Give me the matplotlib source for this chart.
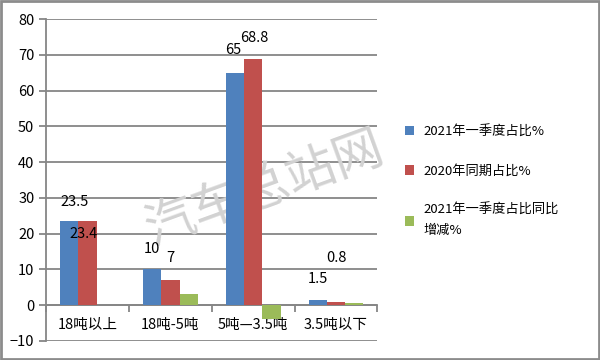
import numpy as np
import matplotlib.pyplot as plt

plt.rcParams['font.family'] = ['Noto Sans CJK SC', 'DejaVu Sans']

categories = ["18吨以上", "18吨-5吨", "5吨—3.5吨", "3.5吨以下"]
share_2021q1 = [23.5, 10, 65, 1.5]
share_2020 = [23.4, 7, 68.8, 0.8]
share_change = [0.1, 3, -3.8, 0.7]
series_names = ["2021年一季度占比%", "2020年同期占比%", "2021年一季度占比同比\n增减%"]
yticks = [-10, 0, 10, 20, 30, 40, 50, 60, 70, 80]

colors = ["#4f81bd", "#c0504d", "#9bbb59"]
# label offsets in points (manually placed in the original)
off_blue = [(4, 9), (0, 10), (-1, 11), (0, 10)]
off_red = [(-3, -14), (0, 11), (1, 10), (0, 27)]

fig = plt.figure(figsize=(6, 3.6), dpi=100)
ax = fig.add_axes([0.077, 0.053, 0.552, 0.894])

x = np.arange(len(categories))
w = 0.22
series = [share_2021q1, share_2020, share_change]
for i, (vals, c) in enumerate(zip(series, colors)):
    ax.bar(x + (i - 1) * w, vals, w, color=c, label=series_names[i], zorder=3)

for xi, v, o in zip(x, share_2021q1, off_blue):
    ax.annotate(str(v), (xi - w, v), xytext=o, textcoords='offset points',
                ha='center', va='bottom', fontsize=10.5, zorder=5)
for xi, v, o in zip(x, share_2020, off_red):
    ax.annotate(str(v), (xi, v), xytext=o, textcoords='offset points',
                ha='center', va='bottom', fontsize=10.5, zorder=5)

ax.set_xlim(-0.5, len(categories) - 0.5)
ax.set_ylim(-10, 80)
ax.set_yticks(yticks)
ax.yaxis.grid(True, color="#868686", linewidth=1.3, zorder=0)
ax.set_axisbelow(True)

for s in ['top', 'right']:
    ax.spines[s].set_visible(False)
ax.spines['left'].set_color("#868686")
ax.spines['left'].set_linewidth(1.3)
ax.spines['bottom'].set_position(('data', 0))
ax.spines['bottom'].set_color("#868686")
ax.spines['bottom'].set_linewidth(1.3)

ax.set_xticks(x)
ax.set_xticklabels(categories, fontsize=10.5)
ax.tick_params(axis='x', which='major', length=0, pad=9)
ax.set_xticks(np.arange(len(categories) + 1) - 0.5, minor=True)
ax.tick_params(axis='x', which='minor', length=5, color="#868686", width=1.3, direction='out')
ax.tick_params(axis='y', length=5, color="#868686", width=1.3, labelsize=10.5)

# watermark, behind the bars
ax.text(0.66, 0.47, "汽车总站网", transform=ax.transAxes, fontsize=36, color="#d2d2d2",
        rotation=20, ha='center', va='center', fontweight='light', zorder=2, clip_on=False)

leg = fig.legend(loc='upper left', bbox_to_anchor=(0.655, 0.685), frameon=False,
                 fontsize=9.5, handlelength=0.7, handleheight=0.7,
                 labelspacing=2.0, handletextpad=0.7)
for t in leg.get_texts():
    t.set_linespacing(1.7)

# gray frame around the picture
fig.patches.append(plt.Rectangle((0.002, 0.003), 0.996, 0.994, transform=fig.transFigure,
                                 fill=False, edgecolor="#8c8c8c", linewidth=2))

fig.savefig("out.png", dpi=100)
